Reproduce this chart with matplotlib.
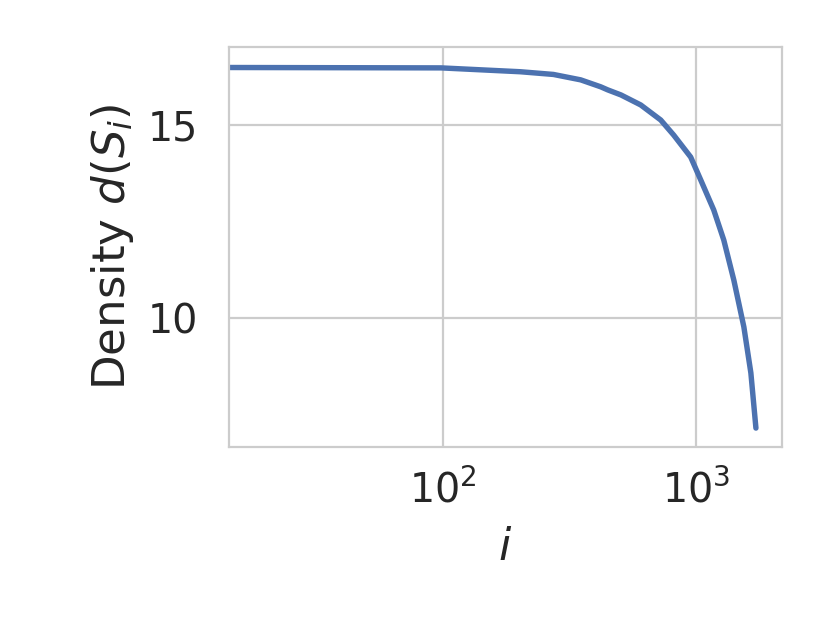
import numpy as np
import matplotlib
matplotlib.use("Agg")
import matplotlib.pyplot as plt

# values
idx = [1, 14, 98, 202, 273, 350, 420, 448, 505, 605, 726, 817, 954,
       1045, 1177, 1290, 1414, 1549, 1651, 1729]
density = [16.50, 16.49, 16.48, 16.38, 16.31, 16.17, 15.99, 15.91, 15.78,
           15.52, 15.13, 14.74, 14.17, 13.58, 12.80, 12.02, 10.98, 9.77,
           8.58, 7.15]

plt.rcParams['font.family'] = ['DejaVu Sans']
plt.rcParams['mathtext.fontset'] = 'dejavusans'

fig = plt.figure(figsize=(8.3, 6.23), dpi=100)
ax = fig.add_axes([0.276, 0.2825, 0.666, 0.642])

ax.plot(idx, density, color='#4c72b0', linewidth=3.9, solid_capstyle='round')
ax.set_xscale('log')
ax.set_xlim(14.2, 2190)
ax.set_ylim(6.66, 17.02)
ax.set_yticks([10, 15])
ax.minorticks_off()

ax.grid(True, color='#cccccc', linewidth=1.6)
ax.set_axisbelow(True)
for s in ax.spines.values():
    s.set_color('#cccccc')
    s.set_linewidth(1.6)

ax.tick_params(axis='both', length=0, labelsize=28.5, colors='#262626')
ax.tick_params(axis='y', pad=22)
ax.tick_params(axis='x', pad=17)
ax.set_xlabel('$i$', fontsize=32, color='#262626', labelpad=10)
ax.set_ylabel('Density $d(S_i)$', fontsize=32.5, color='#262626', labelpad=9)

fig.savefig('out.png', dpi=100, facecolor='white')
